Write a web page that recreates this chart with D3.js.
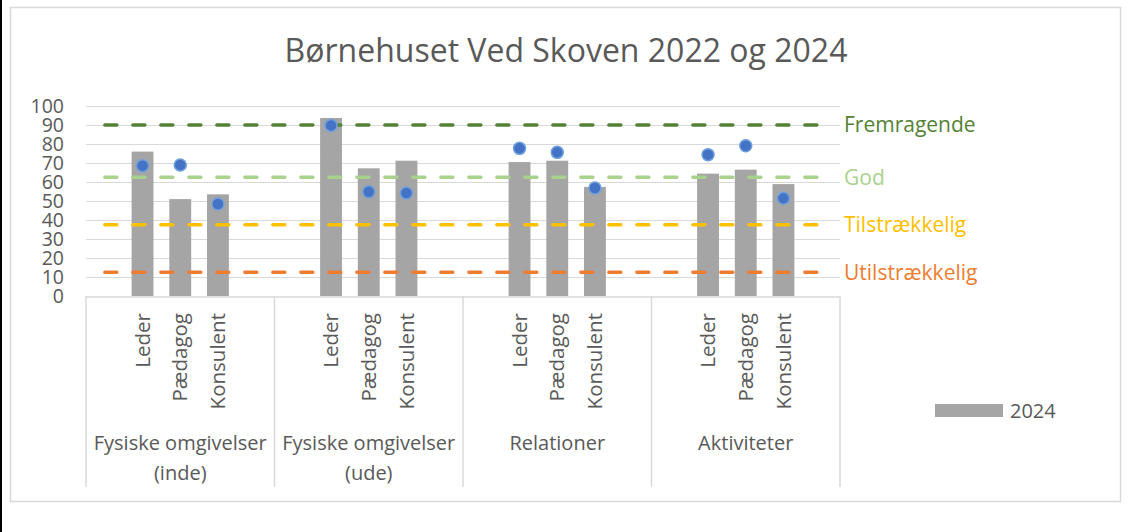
<!DOCTYPE html>
<html>
<head>
<meta charset="utf-8">
<script src="https://cdn.jsdelivr.net/npm/d3@7"></script>
<style>
	body { margin: 0; background: #fff; }
	svg { display: block; font-family: 'Open Sans', sans-serif; }
</style>
</head>
<body>
<div id="chart"></div>
<script>
//===== DATA =====//

var groups = ['Fysiske omgivelser (inde)', 'Fysiske omgivelser (ude)', 'Relationer', 'Aktiviteter'];
var groupLines = [['Fysiske omgivelser', '(inde)'], ['Fysiske omgivelser', '(ude)'], ['Relationer'], ['Aktiviteter']];
var roles = ['Leder', 'Pædagog', 'Konsulent'];
var values2024 = [76, 51, 53.5, 93.7, 67.2, 71.2, 70.5, 71.2, 57.4, 64.4, 66.5, 58.9];
var values2022 = [68.6, 69, 48.4, 89.8, 54.9, 54.2, 77.7, 75.6, 56.8, 74.4, 79.1, 51.4];
var levelNames = ['Fremragende', 'God', 'Tilstrækkelig', 'Utilstrækkelig'];
var levelValues = [90, 62.5, 37.5, 12.5];
var levelColors = ['#548235', '#A9D18E', '#FFC000', '#ED7D31'];
var yTicks = [0, 10, 20, 30, 40, 50, 60, 70, 80, 90, 100];

//===== SETUP =====//

var width = 1128, height = 532;
var plotLeft = 86, plotRight = 840, plotTop = 106, plotBottom = 296;
var textColor = '#595959', gridColor = '#D9D9D9';

var svg = d3.select('#chart').append('svg')
	.attr('width', width)
	.attr('height', height);

// screenshot edge + chart frame
svg.append('rect').attr('x', 0).attr('y', 0).attr('width', 2).attr('height', height).attr('fill', '#000');
svg.append('rect')
	.attr('x', 10.5).attr('y', 7.5)
	.attr('width', 1110).attr('height', 494)
	.attr('fill', 'none')
	.attr('stroke', gridColor)
	.attr('stroke-width', 1.5);

svg.append('text')
	.attr('x', 566).attr('y', 62)
	.attr('text-anchor', 'middle')
	.attr('fill', textColor)
	.style('font-size', '32px')
	.text('Børnehuset Ved Skoven 2022 og 2024');

var x0 = d3.scaleBand().domain(groups).range([plotLeft, plotRight]).padding(0);
// 5 slots per group, first and last are empty
var x1 = d3.scaleBand().domain(d3.range(5)).range([0, x0.bandwidth()]).padding(0);
var y = d3.scaleLinear().domain([0, 100]).range([plotBottom, plotTop]);

function slotX(i) {
	var g = Math.floor(i / roles.length), r = i % roles.length;
	return x0(groups[g]) + x1(r + 1) + x1.bandwidth() / 2;
}

var points = values2024.map(function (v, i) {
	return {i: i, v24: v, v22: values2022[i]};
});

//===== GRID + AXES =====//

svg.append('g').selectAll('line')
	.data(yTicks.filter(function (t) { return t > 0; }))
	.enter().append('line')
	.attr('x1', plotLeft).attr('x2', plotRight)
	.attr('y1', function (d) { return y(d) + 0.5; })
	.attr('y2', function (d) { return y(d) + 0.5; })
	.attr('stroke', gridColor)
	.attr('stroke-width', 1);

var yAxis = svg.append('g')
	.attr('transform', 'translate(' + (plotLeft - 22) + ',0)')
	.call(d3.axisLeft(y).tickValues(yTicks).tickSize(0).tickPadding(0));
yAxis.select('.domain').remove();
yAxis.selectAll('text')
	.attr('fill', textColor)
	.attr('dy', '0.35em')
	.style('font-size', '19.5px')
	.style('font-family', "'Open Sans', sans-serif");

// category axis
svg.append('line')
	.attr('x1', plotLeft).attr('x2', plotRight)
	.attr('y1', plotBottom + 1).attr('y2', plotBottom + 1)
	.attr('stroke', gridColor).attr('stroke-width', 1.5);

var bounds = groups.map(function (g) { return x0(g); }).concat([plotRight]);
svg.append('g').selectAll('line')
	.data(bounds)
	.enter().append('line')
	.attr('x1', function (d) { return d; })
	.attr('x2', function (d) { return d; })
	.attr('y1', plotBottom).attr('y2', 487)
	.attr('stroke', gridColor).attr('stroke-width', 1.5);

svg.append('g').selectAll('text')
	.data(points)
	.enter().append('text')
	.attr('transform', function (d) { return 'translate(' + slotX(d.i) + ',313) rotate(-90)'; })
	.attr('text-anchor', 'end')
	.attr('dy', '0.35em')
	.attr('fill', textColor)
	.style('font-size', '20.5px')
	.text(function (d) { return roles[d.i % roles.length]; });

var groupLabels = svg.append('g').selectAll('text')
	.data(groupLines)
	.enter().append('text')
	.attr('text-anchor', 'middle')
	.attr('fill', textColor)
	.style('font-size', '20px');
groupLabels.selectAll('tspan')
	.data(function (lines, gi) { return lines.map(function (l) { return {t: l, g: gi}; }); })
	.enter().append('tspan')
	.attr('x', function (d) { return x0(groups[d.g]) + x0.bandwidth() / 2; })
	.attr('y', function (d, k) { return 450 + k * 30; })
	.text(function (d) { return d.t; });

//===== BARS (2024) =====//

var barW = x1.bandwidth() * 0.58;
svg.append('g').selectAll('rect')
	.data(points)
	.enter().append('rect')
	.attr('x', function (d) { return slotX(d.i) - barW / 2; })
	.attr('y', function (d) { return y(d.v24); })
	.attr('width', barW)
	.attr('height', function (d) { return y(0) - y(d.v24); })
	.attr('fill', '#A5A5A5');

//===== LEVEL LINES =====//

var lineX1 = x0(groups[0]) + x1(0) + x1.bandwidth() / 2;
var lineX2 = x0(groups[groups.length - 1]) + x1(4) + x1.bandwidth() / 2;

svg.append('g').selectAll('line')
	.data(levelValues)
	.enter().append('line')
	.attr('x1', lineX1).attr('x2', lineX2)
	.attr('y1', function (d) { return y(d); })
	.attr('y2', function (d) { return y(d); })
	.attr('stroke', function (d, i) { return levelColors[i]; })
	.attr('stroke-width', 3.5)
	.attr('stroke-linecap', 'round')
	.attr('stroke-dasharray', '12,16');

svg.append('g').selectAll('text')
	.data(levelValues)
	.enter().append('text')
	.attr('x', 844)
	.attr('y', function (d) { return y(d); })
	.attr('dy', '0.35em')
	.attr('fill', function (d, i) { return levelColors[i]; })
	.style('font-size', '21px')
	.text(function (d, i) { return levelNames[i]; });

//===== DOTS (2022) =====//

svg.append('g').selectAll('circle')
	.data(points)
	.enter().append('circle')
	.attr('cx', function (d) { return slotX(d.i); })
	.attr('cy', function (d) { return y(d.v22); })
	.attr('r', 6)
	.attr('fill', '#4472C4')
	.attr('stroke', '#6FA0DC')
	.attr('stroke-width', 1.5);

//===== LEGEND =====//

svg.append('rect')
	.attr('x', 935).attr('y', 404)
	.attr('width', 68).attr('height', 13)
	.attr('fill', '#A5A5A5');
svg.append('text')
	.attr('x', 1010).attr('y', 411)
	.attr('dy', '0.35em')
	.attr('fill', textColor)
	.style('font-size', '20px')
	.text('2024');
</script>
</body>
</html>
